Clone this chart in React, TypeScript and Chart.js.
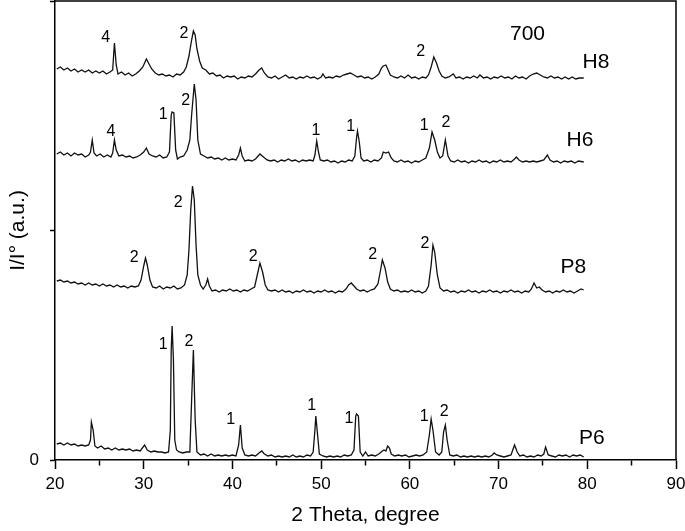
import React, { useEffect, useRef } from "react";
import { Chart, registerables } from "chart.js";

Chart.register(...registerables);

const FONT = "'Liberation Sans', Arial, Helvetica, sans-serif";

const X_MIN = 20;
const X_MAX = 90;
const X_STEP = 5;
const Y_MIN = 0;
const Y_MAX = 459;
const Y_STEP = 236;

const X_TITLE = "2 Theta, degree";
const Y_TITLE = "I/I\u00B0 (a.u.)";

// [2theta, intensity]
const H8: [number, number][] = [
  [20.2, 391], [20.6, 393], [21.0, 390], [21.4, 392], [21.8, 389], [22.2, 391], [22.6, 388], [23.0, 390],
  [23.4, 388], [23.8, 390], [24.2, 387], [24.6, 389], [25.0, 387], [25.4, 389], [25.8, 386], [26.2, 388],
  [26.5, 390], [26.7, 417], [26.9, 395], [27.1, 386], [27.5, 388], [27.9, 385], [28.3, 387], [28.7, 384],
  [29.1, 386], [29.5, 389], [29.9, 393], [30.3, 401], [30.6, 396], [30.9, 391], [31.3, 387], [31.7, 385],
  [32.1, 386], [32.5, 384], [32.9, 385], [33.3, 383], [33.7, 386], [34.1, 385], [34.5, 388], [34.8, 393],
  [35.1, 404], [35.4, 420], [35.6, 429], [35.8, 425], [36.0, 411], [36.3, 399], [36.6, 392], [37.0, 390],
  [37.4, 386], [37.8, 387], [38.2, 384], [38.6, 385], [39.0, 382], [39.4, 384], [39.8, 383], [40.2, 384],
  [40.6, 381], [41.0, 383], [41.4, 382], [41.8, 384], [42.2, 383], [42.6, 386], [43.0, 390], [43.3, 392],
  [43.6, 387], [44.0, 383], [44.4, 382], [44.8, 384], [45.2, 381], [45.6, 383], [46.0, 385], [46.4, 382],
  [46.8, 383], [47.2, 381], [47.6, 383], [48.0, 382], [48.4, 384], [48.8, 382], [49.2, 383], [49.6, 381],
  [50.0, 383], [50.2, 386], [50.5, 382], [50.9, 383], [51.3, 382], [51.7, 384], [52.1, 383], [52.5, 385],
  [52.9, 386], [53.3, 387], [53.7, 385], [54.1, 383], [54.5, 384], [54.9, 382], [55.3, 383], [55.7, 381],
  [56.1, 383], [56.5, 386], [56.8, 392], [57.0, 394], [57.3, 395], [57.5, 391], [57.8, 385], [58.2, 383],
  [58.6, 382], [59.0, 384], [59.4, 382], [59.8, 385], [60.2, 382], [60.6, 383], [61.0, 381], [61.4, 383],
  [61.8, 382], [62.1, 385], [62.4, 393], [62.7, 403], [63.0, 397], [63.3, 389], [63.6, 384], [64.0, 382],
  [64.4, 383], [64.9, 386], [65.2, 382], [65.6, 383], [66.0, 381], [66.4, 383], [66.8, 382], [67.2, 384],
  [67.6, 382], [67.9, 385], [68.3, 382], [68.7, 383], [69.1, 381], [69.5, 383], [69.9, 382], [70.3, 384],
  [70.7, 382], [71.1, 383], [71.5, 381], [71.9, 384], [72.3, 382], [72.7, 383], [73.1, 381], [73.5, 384],
  [73.9, 386], [74.3, 387], [74.7, 385], [75.1, 383], [75.5, 382], [75.9, 384], [76.3, 382], [76.7, 383],
  [77.1, 381], [77.5, 383], [77.9, 381], [78.3, 383], [78.7, 381], [79.1, 382], [79.6, 382],
];

const H6: [number, number][] = [
  [20.2, 306], [20.6, 308], [21.0, 305], [21.4, 307], [21.8, 304], [22.2, 307], [22.6, 305], [23.0, 306],
  [23.4, 303], [23.8, 305], [24.0, 308], [24.2, 320], [24.4, 307], [24.7, 304], [25.1, 306], [25.5, 303],
  [25.9, 305], [26.3, 303], [26.5, 307], [26.7, 320], [26.9, 310], [27.2, 304], [27.6, 305], [28.0, 303],
  [28.4, 304], [28.8, 302], [29.2, 303], [29.6, 305], [30.0, 308], [30.3, 312], [30.6, 306], [31.0, 304],
  [31.4, 303], [31.8, 305], [32.2, 302], [32.6, 303], [32.9, 308], [33.1, 345], [33.2, 348], [33.4, 347],
  [33.6, 310], [33.8, 301], [34.1, 303], [34.5, 304], [34.9, 310], [35.2, 320], [35.4, 345], [35.7, 376],
  [35.9, 360], [36.1, 320], [36.4, 306], [36.8, 304], [37.2, 302], [37.6, 303], [38.0, 301], [38.4, 302],
  [38.8, 300], [39.2, 302], [39.6, 300], [40.0, 301], [40.4, 300], [40.7, 305], [40.9, 312], [41.1, 304],
  [41.4, 299], [41.8, 300], [42.2, 299], [42.6, 301], [43.1, 306], [43.5, 303], [43.9, 300], [44.3, 299],
  [44.7, 300], [45.1, 298], [45.5, 300], [45.9, 299], [46.3, 301], [46.7, 299], [47.1, 300], [47.5, 298],
  [47.9, 300], [48.3, 299], [48.7, 300], [49.1, 299], [49.3, 305], [49.5, 319], [49.7, 308], [49.9, 300],
  [50.3, 299], [50.7, 300], [51.1, 298], [51.5, 299], [51.9, 297], [52.3, 299], [52.7, 298], [53.1, 300],
  [53.5, 299], [53.8, 304], [54.0, 323], [54.1, 329], [54.3, 318], [54.5, 302], [54.8, 299], [55.2, 300],
  [55.6, 298], [56.0, 300], [56.4, 299], [56.8, 302], [57.0, 308], [57.3, 307], [57.6, 308], [57.9, 302],
  [58.2, 299], [58.6, 298], [59.0, 300], [59.4, 298], [59.8, 299], [60.2, 297], [60.6, 299], [61.0, 298],
  [61.4, 300], [61.8, 302], [62.2, 312], [62.5, 328], [62.8, 320], [63.1, 308], [63.4, 302], [63.7, 304],
  [64.0, 320], [64.3, 304], [64.6, 299], [65.0, 298], [65.4, 300], [65.8, 298], [66.2, 299], [66.6, 297],
  [67.0, 299], [67.4, 298], [67.8, 300], [68.2, 298], [68.6, 299], [69.0, 297], [69.4, 299], [69.8, 298],
  [70.2, 300], [70.6, 298], [71.0, 299], [71.4, 298], [71.8, 301], [72.0, 303], [72.3, 300], [72.7, 298],
  [73.1, 299], [73.5, 298], [73.9, 299], [74.3, 298], [74.7, 299], [75.1, 300], [75.5, 305], [75.8, 300],
  [76.2, 298], [76.6, 299], [77.0, 297], [77.4, 299], [77.8, 298], [78.2, 299], [78.6, 297], [79.0, 299],
  [79.6, 298],
];

const P8: [number, number][] = [
  [20.2, 179], [20.6, 180], [21.0, 178], [21.4, 179], [21.8, 177], [22.2, 178], [22.6, 176], [23.0, 177],
  [23.4, 175], [23.8, 177], [24.2, 175], [24.6, 176], [25.0, 174], [25.4, 176], [25.8, 174], [26.2, 175],
  [26.6, 173], [27.0, 175], [27.4, 173], [27.8, 174], [28.2, 172], [28.6, 174], [29.0, 173], [29.4, 174],
  [29.7, 180], [30.0, 194], [30.2, 202], [30.4, 195], [30.7, 180], [31.0, 173], [31.4, 172], [31.8, 174],
  [32.2, 171], [32.6, 173], [33.0, 172], [33.4, 174], [33.8, 171], [34.2, 172], [34.6, 175], [34.9, 185],
  [35.1, 210], [35.3, 250], [35.5, 274], [35.7, 260], [35.9, 215], [36.1, 185], [36.4, 175], [36.7, 171],
  [37.0, 175], [37.2, 181], [37.4, 174], [37.7, 169], [38.1, 170], [38.5, 168], [38.9, 170], [39.3, 169],
  [39.7, 171], [40.1, 169], [40.5, 170], [40.9, 168], [41.3, 170], [41.7, 169], [42.1, 171], [42.5, 173],
  [42.8, 185], [43.1, 197], [43.4, 188], [43.7, 175], [44.0, 170], [44.4, 169], [44.8, 170], [45.2, 168],
  [45.6, 170], [46.0, 168], [46.4, 169], [46.8, 167], [47.2, 169], [47.6, 168], [48.0, 170], [48.4, 168],
  [48.8, 169], [49.2, 167], [49.6, 169], [50.0, 168], [50.4, 170], [50.8, 168], [51.2, 169], [51.6, 167],
  [52.0, 169], [52.4, 168], [52.8, 171], [53.1, 175], [53.4, 177], [53.7, 174], [54.0, 171], [54.4, 169],
  [54.8, 170], [55.2, 168], [55.6, 170], [56.0, 171], [56.4, 176], [56.7, 190], [56.9, 200], [57.2, 192],
  [57.5, 178], [57.8, 171], [58.2, 169], [58.6, 170], [59.0, 168], [59.4, 169], [59.8, 168], [60.2, 170],
  [60.6, 168], [61.0, 169], [61.4, 167], [61.8, 169], [62.1, 174], [62.4, 195], [62.6, 215], [62.8, 208],
  [63.1, 185], [63.4, 172], [63.8, 169], [64.2, 170], [64.6, 168], [65.0, 169], [65.4, 167], [65.8, 169],
  [66.2, 168], [66.6, 170], [67.0, 168], [67.4, 169], [67.8, 167], [68.2, 169], [68.6, 168], [69.0, 170],
  [69.4, 168], [69.8, 169], [70.2, 167], [70.6, 169], [71.0, 168], [71.4, 170], [71.8, 168], [72.2, 169],
  [72.6, 167], [73.0, 169], [73.4, 168], [73.7, 171], [74.0, 177], [74.3, 172], [74.6, 173], [74.9, 170],
  [75.3, 168], [75.7, 169], [76.1, 167], [76.5, 169], [76.9, 168], [77.3, 170], [77.7, 168], [78.1, 169],
  [78.5, 167], [78.9, 169], [79.3, 171], [79.6, 170],
];

const P6: [number, number][] = [
  [20.2, 16], [20.6, 17], [21.0, 15], [21.4, 17], [21.8, 15], [22.2, 16], [22.6, 14], [23.0, 15],
  [23.4, 14], [23.8, 15], [24.0, 20], [24.1, 38], [24.3, 30], [24.5, 14], [24.8, 12], [25.2, 14],
  [25.6, 11], [26.0, 12], [26.4, 10], [26.8, 12], [27.2, 10], [27.6, 11], [28.0, 10], [28.4, 11],
  [28.8, 9], [29.2, 10], [29.6, 9], [30.1, 15], [30.4, 10], [30.8, 8], [31.2, 9], [31.6, 8],
  [32.0, 8], [32.4, 7], [32.8, 8], [33.0, 30], [33.1, 110], [33.2, 134], [33.35, 100], [33.5, 20],
  [33.7, 10], [34.0, 8], [34.4, 7], [34.8, 8], [35.2, 8], [35.4, 60], [35.6, 110], [35.8, 40],
  [36.0, 8], [36.4, 5], [36.8, 6], [37.2, 4], [37.6, 6], [38.0, 4], [38.4, 5], [38.8, 4],
  [39.2, 5], [39.6, 4], [40.0, 5], [40.4, 4], [40.7, 15], [40.9, 35], [41.1, 12], [41.4, 5],
  [41.8, 4], [42.2, 5], [42.6, 4], [43.0, 7], [43.3, 9], [43.6, 6], [44.0, 4], [44.4, 5],
  [44.8, 3], [45.2, 4], [45.6, 3], [46.0, 4], [46.4, 3], [46.8, 5], [47.2, 3], [47.6, 4],
  [48.0, 3], [48.4, 5], [48.8, 4], [49.1, 8], [49.3, 30], [49.4, 44], [49.6, 25], [49.8, 6],
  [50.2, 4], [50.6, 3], [51.0, 4], [51.4, 3], [51.8, 4], [52.2, 3], [52.6, 5], [53.0, 4],
  [53.4, 5], [53.7, 10], [53.9, 44], [54.0, 46], [54.2, 44], [54.4, 8], [54.7, 4], [55.0, 8],
  [55.3, 4], [55.7, 5], [56.1, 4], [56.5, 6], [56.9, 9], [57.1, 10], [57.3, 9], [57.5, 14],
  [57.7, 12], [57.9, 6], [58.3, 4], [58.7, 5], [59.1, 4], [59.5, 5], [59.9, 3], [60.3, 4],
  [60.7, 5], [61.1, 4], [61.5, 5], [61.9, 8], [62.2, 25], [62.4, 41], [62.6, 30], [62.9, 8],
  [63.3, 5], [63.6, 8], [63.8, 28], [64.0, 35], [64.2, 20], [64.5, 5], [64.9, 4], [65.3, 5],
  [65.7, 3], [66.1, 4], [66.5, 3], [66.9, 4], [67.3, 3], [67.7, 4], [68.1, 3], [68.5, 4],
  [68.9, 3], [69.3, 5], [69.5, 7], [69.8, 5], [70.2, 4], [70.6, 3], [71.0, 4], [71.4, 5],
  [71.6, 10], [71.8, 15], [72.1, 8], [72.4, 4], [72.8, 5], [73.2, 3], [73.6, 4], [74.0, 3],
  [74.4, 5], [74.8, 4], [75.1, 6], [75.3, 13], [75.6, 5], [76.0, 4], [76.4, 3], [76.8, 5],
  [77.2, 4], [77.6, 5], [78.0, 3], [78.4, 5], [78.8, 4], [79.2, 5], [79.6, 3],
];

// peak annotations: text, x (2theta), y (intensity)
const PEAK_TEXT = [
  "4", "2", "2",
  "4", "1", "2", "1", "1", "1", "2",
  "2", "2", "2", "2", "2",
  "1", "2", "1", "1", "1", "1", "2",
];
const PEAK_X = [
  25.72, 34.54, 61.22,
  26.31, 32.21, 34.73, 49.42, 53.33, 61.63, 64.08,
  28.94, 33.9, 42.35, 55.81, 61.71,
  32.21, 35.11, 39.81, 48.94, 53.14, 61.63, 63.88,
];
const PEAK_Y = [
  422, 426, 408,
  328, 345, 359, 329, 333, 334, 337,
  202, 257, 203, 205, 216,
  115, 118, 40, 54, 41, 43, 48,
];

// sample labels
const SAMPLE_TEXT = ["700", "H8", "H6", "P8", "P6"];
const SAMPLE_X = [73.26, 80.98, 79.18, 78.43, 80.5];
const SAMPLE_Y = [426, 398, 320, 193, 22];

const SERIES_NAMES = ["H8", "H6", "P8", "P6"];
const SERIES_DATA = [H8, H6, P8, P6];

const textPlugin = {
  id: "xrdText",
  afterDatasetsDraw(chart: any) {
    const { ctx, scales, chartArea } = chart;
    const xs = scales.x;
    const ys = scales.y;
    ctx.save();
    ctx.fillStyle = "#000";
    ctx.textAlign = "center";
    ctx.textBaseline = "middle";
    ctx.font = `16px ${FONT}`;
    PEAK_TEXT.forEach((t, i) => {
      ctx.fillText(t, xs.getPixelForValue(PEAK_X[i]), ys.getPixelForValue(PEAK_Y[i]));
    });
    ctx.font = `21px ${FONT}`;
    SAMPLE_TEXT.forEach((t, i) => {
      ctx.fillText(t, xs.getPixelForValue(SAMPLE_X[i]), ys.getPixelForValue(SAMPLE_Y[i]));
    });
    // frame top & right
    ctx.strokeStyle = "#000";
    ctx.lineWidth = 1.5;
    ctx.beginPath();
    ctx.moveTo(chartArea.left, chartArea.top);
    ctx.lineTo(chartArea.right, chartArea.top);
    ctx.lineTo(chartArea.right, chartArea.bottom);
    ctx.stroke();
    ctx.restore();
  },
};

const zeroPad = (s: any) => {
  s.paddingTop = 0;
  s.paddingBottom = 0;
  s.paddingLeft = 0;
  s.paddingRight = 0;
};

export default function App() {
  const ref = useRef<HTMLCanvasElement>(null);

  useEffect(() => {
    document.body.style.margin = "0";
    if (!ref.current) return;
    const chart = new Chart(ref.current, {
      type: "line",
      data: {
        datasets: SERIES_DATA.map((d, i) => ({
          label: SERIES_NAMES[i],
          data: d.map(([x, y]) => ({ x, y })),
          borderColor: "#111",
          borderWidth: 1.3,
          pointRadius: 0,
          tension: 0,
          fill: false,
        })),
      },
      options: {
        animation: false,
        responsive: false,
        layout: { autoPadding: false, padding: { top: 1, right: 9, left: 0, bottom: 0 } },
        plugins: { legend: { display: false }, tooltip: { enabled: false } },
        scales: {
          x: {
            type: "linear",
            min: X_MIN,
            max: X_MAX,
            afterFit: (s: any) => { s.height = 71; zeroPad(s); },
            border: { display: true, color: "#000", width: 1.5 },
            grid: {
              drawOnChartArea: false,
              drawTicks: true,
              tickLength: 9,
              tickColor: "#000",
              tickWidth: 1.5,
              tickBorderDash: (c: any) => (c.tick && c.tick.value % 10 === 0 ? [] : [5, 30]),
            },
            ticks: {
              stepSize: X_STEP,
              autoSkip: false,
              maxRotation: 0,
              padding: 5,
              color: "#000",
              font: { family: FONT, size: 17 },
              callback: (v: any) => (Number(v) % 10 === 0 ? String(v) : ""),
            },
            title: {
              display: true,
              text: X_TITLE,
              color: "#000",
              font: { family: FONT, size: 21 },
              padding: { top: 0, bottom: 3 },
            },
          },
          y: {
            type: "linear",
            min: Y_MIN,
            max: Y_MAX,
            afterFit: (s: any) => { s.width = 55; zeroPad(s); },
            border: { display: true, color: "#000", width: 1.5 },
            grid: {
              drawOnChartArea: false,
              drawTicks: true,
              tickLength: 5,
              tickColor: "#000",
              tickWidth: 1.5,
            },
            ticks: {
              stepSize: Y_STEP,
              includeBounds: false,
              padding: 11,
              color: "#000",
              font: { family: FONT, size: 17 },
              callback: (v: any) => (Number(v) === 0 ? "0" : ""),
            },
            title: {
              display: true,
              text: Y_TITLE,
              color: "#000",
              font: { family: FONT, size: 21 },
              padding: { top: 6, bottom: 0 },
            },
          },
        },
      },
      plugins: [textPlugin],
    });
    return () => chart.destroy();
  }, []);

  return (
    <div style={{ width: 685, height: 531, background: "#fff" }}>
      <canvas ref={ref} width={685} height={531} style={{ display: "block" }} />
    </div>
  );
}
